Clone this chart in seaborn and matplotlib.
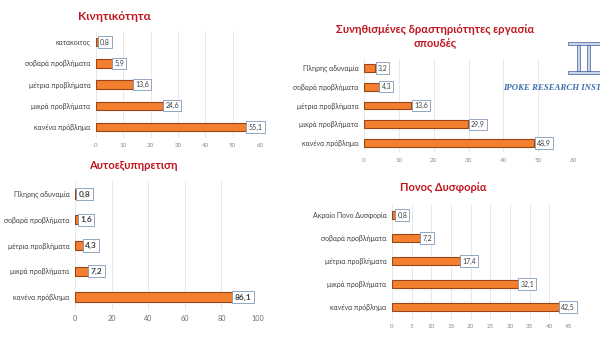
import matplotlib
matplotlib.use("Agg")
import matplotlib.pyplot as plt
import seaborn as sns
import pandas as pd
from matplotlib.patches import Rectangle

sns.set_theme(style="white")
plt.rcParams['font.family'] = ['Lato', 'DejaVu Sans']

# ---- data ----
titles = ["Κινητικότητα", "Συνηθισμένες δραστηριότητες εργασία\nσπουδές",
          "Αυτοεξυπηρετιση", "Πονος Δυσφορία"]
cats1 = ["κατακοιτος", "σοβαρά προβλήματα", "μέτρια προβλήματα", "μικρά προβλήματα", "κανένα πρόβλημα"]
vals1 = [0.8, 5.9, 13.6, 24.6, 55.1]
cats2 = ["Πληρης αδυναμία", "σοβαρά προβλήματα", "μέτρια προβλήματα", "μικρά προβλήματα", "κανένα πρόβλημα"]
vals2 = [3.2, 4.3, 13.6, 29.9, 48.9]
cats3 = ["Πληρης αδυναμία", "σοβαρά προβλήματα", "μέτρια προβλήματα", "μικρά προβλήματα", "κανένα πρόβλημα"]
vals3 = [0.8, 1.6, 4.3, 7.2, 86.1]
cats4 = ["Ακραίο Πονο Δυσφορία", "σοβαρά προβλήματα", "μέτρια προβλήματα", "μικρά προβλήματα", "κανένα πρόβλημα"]
vals4 = [0.8, 7.2, 17.4, 32.1, 42.5]
xticks1 = [0, 10, 20, 30, 40, 50, 60]
xticks2 = [0, 10, 20, 30, 40, 50, 60]
xticks3 = [0, 20, 40, 60, 80, 100]
xticks4 = [0, 5, 10, 15, 20, 25, 30, 35, 40, 45]
logo_text = "IPOKE RESEARCH INST"

W, H = 600, 346
fig = plt.figure(figsize=(6.0, 3.46), dpi=100)
fig.patch.set_facecolor("white")

def px_axes(x0, x1, ytop, ybot):
    return fig.add_axes([x0 / W, 1 - ybot / H, (x1 - x0) / W, (ybot - ytop) / H])

panels = [
    dict(cats=cats1, vals=vals1, ticks=xticks1, box=(96, 260, 31.4, 137.7), width=0.4,
         bold=False, lab=5.0, ys=5.0, tks=4.5, title_xy=(114, 17), tfs=8.6),
    dict(cats=cats2, vals=vals2, ticks=xticks2, box=(364, 573, 58.6, 152.4), width=0.42,
         bold=False, lab=5.0, ys=5.0, tks=4.5, title_xy=(435, 36), tfs=8.0),
    dict(cats=cats3, vals=vals3, ticks=xticks3, box=(75, 258, 181.1, 309.9), width=0.36,
         bold=True, lab=6.0, ys=5.0, tks=5.2, title_xy=(133, 166), tfs=8.0),
    dict(cats=cats4, vals=vals4, ticks=xticks4, box=(392, 569, 203.5, 318.5), width=0.36,
         bold=False, lab=5.0, ys=5.0, tks=4.5, title_xy=(443, 188), tfs=7.9),
]

for i, p in enumerate(panels):
    ax = px_axes(*p["box"])
    df = pd.DataFrame({"cat": p["cats"], "val": p["vals"]})
    sns.barplot(data=df, y="cat", x="val", orient="h", color="#F47F2E",
                edgecolor="#9A4616", linewidth=0.8, width=p["width"], ax=ax,
                saturation=1)
    ax.set_xlim(p["ticks"][0], p["ticks"][-1])
    ax.set_ylim(len(p["cats"]) - 0.5, -0.5)
    ax.set_xticks(p["ticks"])
    ax.set_xticklabels([str(t) for t in p["ticks"]], fontsize=p["tks"],
                       color="#6E6E6E" if p["bold"] else "#8C8C8C")
    ax.tick_params(axis="x", length=0, pad=4)
    ax.tick_params(axis="y", length=0, pad=4)
    for lbl in ax.get_yticklabels():
        lbl.set_fontsize(p["ys"])
        lbl.set_color("#404040")
    ax.set_xlabel("")
    ax.set_ylabel("")
    ax.grid(axis="x", color="#E4E4E4", linewidth=0.6)
    ax.set_axisbelow(True)
    for s in ax.spines.values():
        s.set_visible(False)
    ax.patch.set_alpha(0)
    span = p["ticks"][-1] - p["ticks"][0]
    for j, v in enumerate(p["vals"]):
        ax.text(v + span * 0.012, j, f"{v:.1f}".replace(".", ","),
                fontsize=p["lab"], va="center", ha="left", color="#404040",
                fontweight="bold" if p["bold"] else "normal",
                bbox=dict(boxstyle="square,pad=0.3", fc="white", ec="#7F97B8", lw=0.6))
    tx, ty = p["title_xy"]
    fig.text(tx / W, 1 - ty / H, titles[i], ha="center", va="center",
             fontsize=p["tfs"], color="#C0141E", fontweight="bold", linespacing=1.3)

# logo text
fig.text(503 / W, 1 - 88 / H, logo_text, family="Liberation Serif",
         style="italic", fontweight="bold", fontsize=6.3, color="#3C6FB0",
         ha="left", va="center")
# simple logo mark
lax = fig.add_axes([565 / W, 1 - 78 / H, 35 / W, 40 / H])
lax.set_xlim(0, 35); lax.set_ylim(0, 40); lax.axis("off")
lax.add_patch(Rectangle((3, 33), 32, 3, fc="#C9D4EA", ec="#3C5A9A", lw=0.5))
lax.add_patch(Rectangle((3, 4), 32, 3, fc="#C9D4EA", ec="#3C5A9A", lw=0.5))
lax.add_patch(Rectangle((12, 7), 3, 26, fc="#C9D4EA", ec="#3C5A9A", lw=0.5))
lax.add_patch(Rectangle((22, 7), 3, 26, fc="#C9D4EA", ec="#3C5A9A", lw=0.5))

fig.savefig("out.png", dpi=100, facecolor="white")
